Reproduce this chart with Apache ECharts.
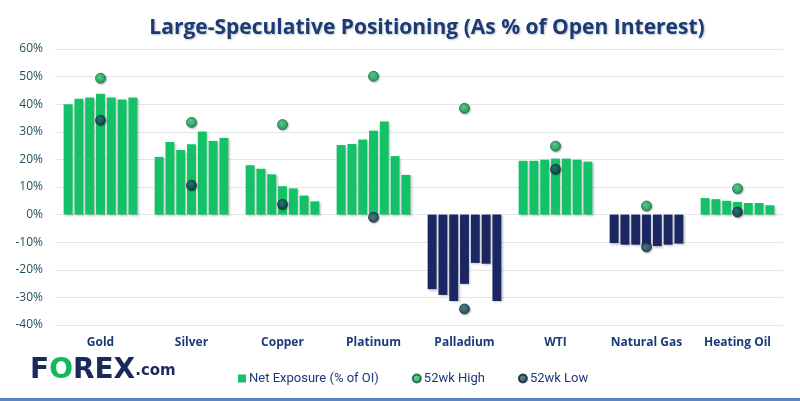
<!DOCTYPE html>
<html><head><meta charset="utf-8">
<script src="https://cdn.jsdelivr.net/npm/echarts@6/dist/echarts.min.js"></script>
<style>html,body{margin:0;padding:0;background:#fff}#c{width:800px;height:401px}</style>
</head><body><div id="c"></div>
<script>
const categories = ['Gold','Silver','Copper','Platinum','Palladium','WTI','Natural Gas','Heating Oil'];
// Net exposure (% of OI), 7 consecutive weeks per market
const gold       = [40.0, 42.0, 42.4, 43.8, 42.4, 41.7, 42.4];
const silver     = [20.9, 26.3, 23.4, 25.5, 30.1, 26.7, 27.8];
const copper     = [17.9, 16.6, 14.6, 10.3, 9.5, 6.9, 4.8];
const platinum   = [25.2, 25.6, 27.2, 30.4, 33.7, 21.2, 14.4];
const palladium  = [-27.0, -29.1, -31.3, -25.1, -17.5, -17.8, -31.3];
const wti        = [19.5, 19.5, 19.9, 20.3, 20.3, 19.9, 19.2];
const naturalGas = [-10.3, -10.9, -10.9, -11.0, -11.4, -10.9, -10.5];
const heatingOil = [6.0, 5.6, 5.0, 4.6, 4.2, 4.2, 3.4];
const high52 = [49.4, 33.4, 32.6, 50.1, 38.5, 24.8, 3.1, 9.4];
const low52  = [34.2, 10.6, 3.7, -1.0, -34.2, 16.4, -11.7, 0.9];

const markets = [gold, silver, copper, platinum, palladium, wti, naturalGas, heatingOil];
const GREEN = '#13C266', NAVY = '#1A2762', TITLE = '#1B3A78';

const barSeries = [];
for (let w = 0; w < 7; w++) {
  barSeries.push({
    name: 'Net Exposure (% of OI)',
    type: 'bar',
    barGap: '21%',
    barCategoryGap: '19%',
    itemStyle: { color: GREEN, shadowBlur: 2, shadowOffsetX: 1.5, shadowOffsetY: 1.5, shadowColor: 'rgba(0,0,0,0.22)' },
    emphasis: { disabled: true },
    data: markets.map(m => m[w] < 0 ? { value: m[w], itemStyle: { color: NAVY } } : m[w])
  });
}

const chart = echarts.init(document.getElementById('c'), null, { renderer: 'canvas' });
chart.setOption({
  animation: false,
  backgroundColor: '#fff',
  grid: { left: 55, right: 17, top: 49, bottom: 76 },
  xAxis: {
    type: 'category',
    data: categories,
    axisLine: { show: false },
    axisTick: { show: false },
    axisLabel: { interval: 0, color: TITLE, fontWeight: 'bold', fontSize: 12, fontFamily: 'Open Sans', margin: 12 }
  },
  yAxis: {
    type: 'value', min: -40, max: 60, interval: 10,
    axisLine: { show: false }, axisTick: { show: false },
    axisLabel: { formatter: '{value}%', color: '#24505E', fontSize: 12, fontFamily: 'Open Sans', margin: 12 },
    splitLine: { lineStyle: { color: '#E2E7EA', width: 1 } }
  },
  legend: {
    left: 233, top: 367,
    itemWidth: 8, itemHeight: 8, itemGap: 33,
    textStyle: { fontFamily: 'Roboto, sans-serif', fontSize: 13, color: TITLE, padding: [0, 0, 0, -2] },
    data: [
      { name: 'Net Exposure (% of OI)', icon: 'rect' },
      { name: '52wk High', icon: 'circle' },
      { name: '52wk Low', icon: 'circle' }
    ]
  },
  graphic: [
    { type: 'text', x: 427, y: 28, style: { text: 'Large-Speculative Positioning (As % of Open Interest)', x: 0, y: 0, align: 'center', verticalAlign: 'middle', fill: TITLE, font: 'bold 21px "Open Sans"', textShadowBlur: 2, textShadowColor: 'rgba(0,0,0,0.25)', textShadowOffsetX: 1, textShadowOffsetY: 1 } },
    { type: 'text', x: 30, y: 371, style: { text: '{n|F}{g|O}{n|REX}{c|.com}', verticalAlign: 'middle', rich: {
      n: { font: 'bold 28px "DejaVu Sans"', fill: '#1B2A5E', verticalAlign: 'middle' },
      g: { font: 'bold 28px "DejaVu Sans"', fill: '#13B85C', verticalAlign: 'middle' },
      c: { font: 'bold 15px "DejaVu Sans"', fill: '#1B2A5E', verticalAlign: 'middle' }
    } } },
    { type: 'rect', shape: { x: 0, y: 398, width: 800, height: 3 }, style: { fill: '#5A86C3' } }
  ],
  series: barSeries.concat([
    {
      name: '52wk High', type: 'scatter', symbolSize: 10, z: 5, data: high52,
      emphasis: { disabled: true },
      itemStyle: {
        color: { type: 'radial', x: 0.4, y: 0.35, r: 0.65, colorStops: [{ offset: 0, color: '#35D27E' }, { offset: 1, color: '#078A42' }] },
        borderColor: '#075C2F', borderWidth: 0.8,
        shadowBlur: 2, shadowOffsetX: 1, shadowOffsetY: 1, shadowColor: 'rgba(0,0,0,0.3)'
      }
    },
    {
      name: '52wk Low', type: 'scatter', symbolSize: 10, z: 5, data: low52,
      emphasis: { disabled: true },
      itemStyle: {
        color: { type: 'radial', x: 0.4, y: 0.35, r: 0.65, colorStops: [{ offset: 0, color: '#2A6E7E' }, { offset: 1, color: '#092E3B' }] },
        borderColor: '#06222C', borderWidth: 0.8,
        shadowBlur: 2, shadowOffsetX: 1, shadowOffsetY: 1, shadowColor: 'rgba(0,0,0,0.3)'
      }
    }
  ])
});
</script></body></html>
